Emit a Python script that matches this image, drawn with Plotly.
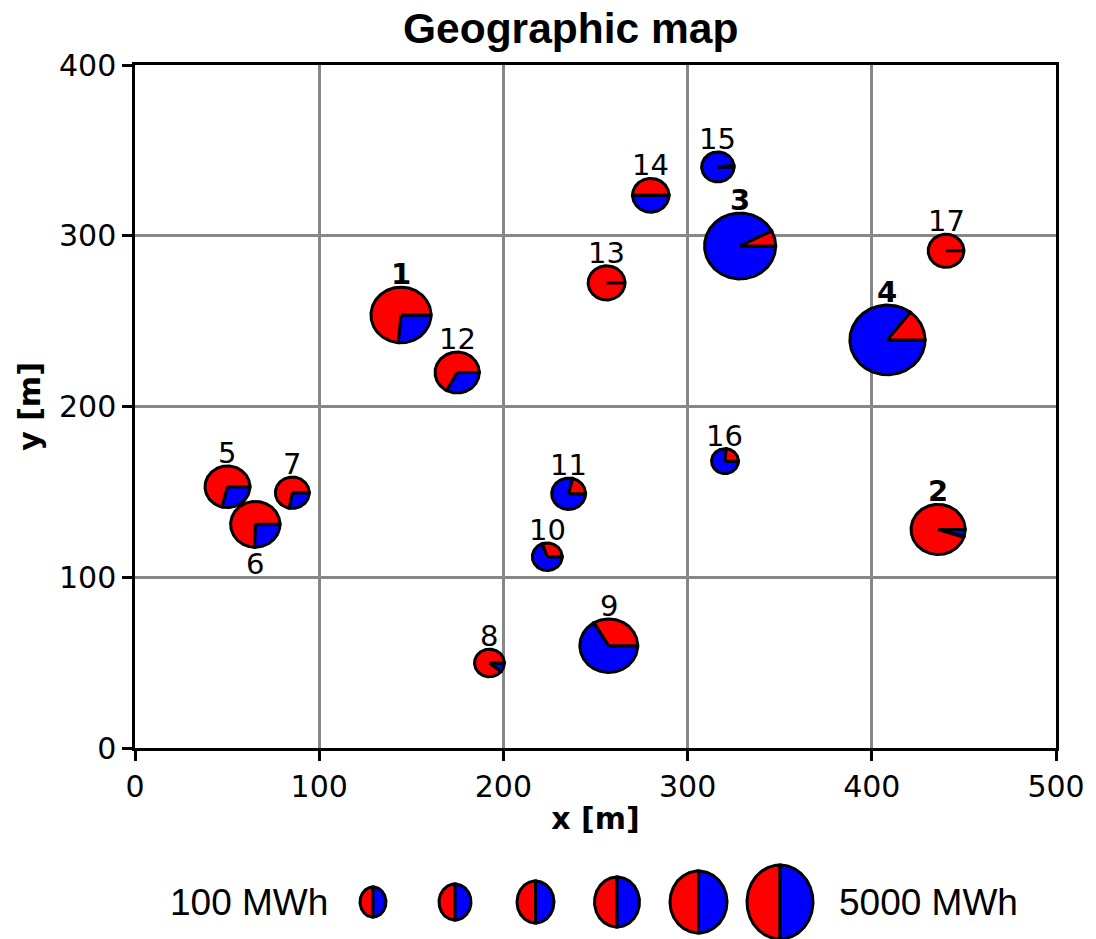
import numpy as np
import plotly.graph_objects as go

# ---- data ----
pie_ids = [1, 2, 3, 4, 5, 6, 7, 8, 9, 10, 11, 12, 13, 14, 15, 16, 17]
pie_x = [144.4, 436, 328.5, 408.5, 50.2, 65.3, 85.4, 192.4, 257.2, 223.8, 235.4, 174.9, 256, 280, 316.4, 320.3, 440.3]
pie_y = [253.6, 128, 294, 239, 153, 131, 149.5, 49.8, 59.9, 112, 148.9, 219.9, 272.4, 323.7, 340.3, 168, 291.2]
pie_radius = [16.3, 14.7, 19.3, 20.4, 12.2, 13.4, 9.2, 8.1, 15.7, 8.1, 9.2, 12, 10, 9.9, 8.8, 7.3, 9.7]
red_share = [0.735, 0.95, 0.075, 0.145, 0.71, 0.745, 0.72, 0.89, 0.335, 0.3, 0.21, 0.67, 1.0, 0.5, 0.015, 0.235, 1.0]
label_below = [6]
x_ticks = [0, 100, 200, 300, 400, 500]
y_ticks = [0, 100, 200, 300, 400]
legend_rx = [13, 16, 18.5, 22.5, 28.5, 33]
legend_ry = [15, 18, 21, 25, 31, 37]
legend_cx = [373, 455, 535.5, 617, 698.5, 780]

W, H = 1096, 939
L, R, T, B = 135, 1056, 65, 748
RED, BLUE = "#ff0000", "#0000ff"


def wedge(cx, cy, rx, ry, a0, a1):
    if a1 - a0 < 1e-6:
        return [cx, cx + rx * np.cos(a0), cx], [cy, cy + ry * np.sin(a0), cy]
    t = np.linspace(a0, a1, max(3, int((a1 - a0) * 40)))
    return ([cx, *(cx + rx * np.cos(t)), cx], [cy, *(cy + ry * np.sin(t)), cy])


fig = go.Figure()


def add_wedge(cx, cy, rx, ry, a0, a1, color, axes):
    xs, ys = wedge(cx, cy, rx, ry, a0, a1)
    fig.add_trace(go.Scatter(x=xs, y=ys, mode="lines", fill="toself", fillcolor=color,
                             line=dict(color="black", width=3), hoverinfo="skip",
                             showlegend=False, xaxis=axes[0], yaxis=axes[1]))


for x, y, r, s in zip(pie_x, pie_y, pie_radius, red_share):
    split = 2 * np.pi * s
    add_wedge(x, y, r, r, split, 2 * np.pi, BLUE, ("x", "y"))
    add_wedge(x, y, r, r, 0, split, RED, ("x", "y"))

for cx, rx, ry in zip(legend_cx, legend_rx, legend_ry):
    add_wedge(cx, 902, rx, ry, np.pi / 2, 3 * np.pi / 2, RED, ("x2", "y2"))
    add_wedge(cx, 902, rx, ry, -np.pi / 2, np.pi / 2, BLUE, ("x2", "y2"))

ann = []
for i, x, y, r in zip(pie_ids, pie_x, pie_y, pie_radius):
    below = i in label_below
    txt = f"<b>{i}</b>" if i <= 4 else str(i)
    ann.append(dict(x=x, y=y - r if below else y + r, xref="x", yref="y", text=txt, showarrow=False,
                    yanchor="top" if below else "bottom", xanchor="center", yshift=2 if below else -6,
                    font=dict(family="DejaVu Sans", size=29, color="black")))
ann.append(dict(x=249, y=902, xref="x2", yref="y2", text="100 MWh", showarrow=False,
                font=dict(family="Liberation Sans", size=37, color="black")))
ann.append(dict(x=928, y=902, xref="x2", yref="y2", text="5000 MWh", showarrow=False,
                font=dict(family="Liberation Sans", size=37, color="black")))
ann.append(dict(x=570, y=28, xref="x2", yref="y2", text="<b>Geographic map</b>", showarrow=False,
                font=dict(family="Liberation Sans", size=42.5, color="black")))

axis_common = dict(ticks="outside", ticklen=10, tickwidth=2.5, tickcolor="black", showgrid=True,
                   gridcolor="#888888", gridwidth=2.5, zeroline=False, showline=True, linecolor="black",
                   linewidth=2.5, mirror=True, automargin=True,
                   tickfont=dict(family="DejaVu Sans", size=30, color="black"))

fig.update_layout(
    width=W, height=H, autosize=False, margin=dict(l=0, r=0, t=0, b=0, autoexpand=False),
    paper_bgcolor="white", plot_bgcolor="rgba(0,0,0,0)", showlegend=False, annotations=ann,
    xaxis=dict(domain=[L / W, R / W], range=[0, 500], tickvals=x_ticks, anchor="y", **axis_common,
               title=dict(text="<b>x [m]</b>", standoff=6, font=dict(family="DejaVu Sans", size=30, color="black"))),
    yaxis=dict(domain=[1 - B / H, 1 - T / H], range=[0, 400], tickvals=y_ticks, anchor="x", **axis_common,
               title=dict(text="<b>y [m]</b>", standoff=10, font=dict(family="DejaVu Sans", size=30, color="black"))),
    xaxis2=dict(domain=[0, 1], range=[0, W], visible=False, anchor="y2", fixedrange=True),
    yaxis2=dict(domain=[0, 1], range=[H, 0], visible=False, anchor="x2", fixedrange=True),
)
fig.write_html("out.html", config={"displayModeBar": False},
               post_script="document.body.style.margin='0';")
